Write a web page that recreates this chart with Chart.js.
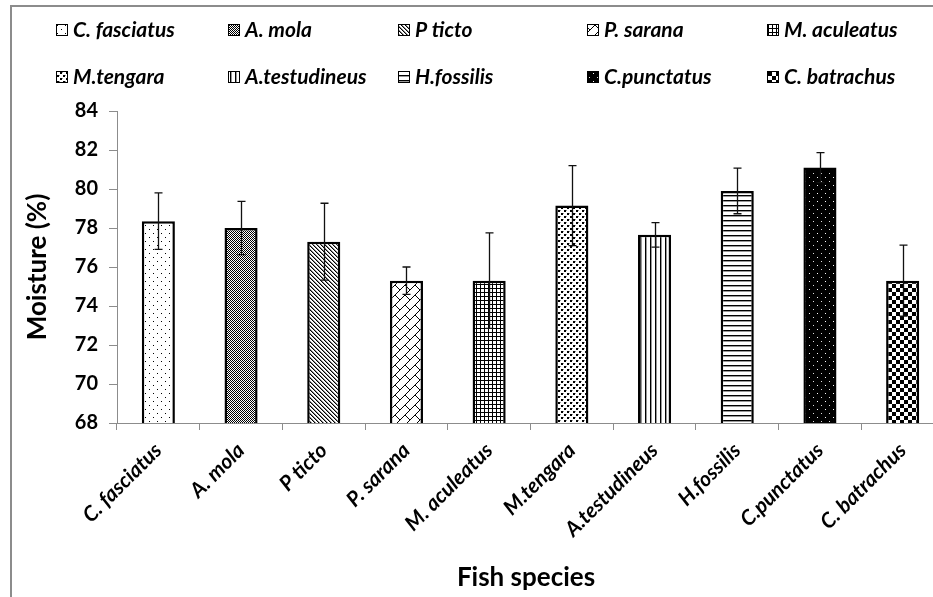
<!DOCTYPE html>
<html>
<head>
<meta charset="utf-8">
<script src="https://cdn.jsdelivr.net/npm/chart.js@4.4.1/dist/chart.umd.min.js"></script>
<style>
  html, body { margin: 0; padding: 0; background: #fff; overflow: hidden; width: 933px; height: 597px; }
  #wrap { position: absolute; left: 0; top: 0; width: 960px; height: 597px; }
  #frame { position: absolute; left: 10px; top: 5px; width: 2000px; height: 2000px;
           border-left: 2px solid #8c8c8c; border-top: 2px solid #8c8c8c; pointer-events: none; }
</style>
</head>
<body>
<div id="wrap"><canvas id="c" width="960" height="597"></canvas></div>
<div id="frame"></div>
<script>
// ---- data ----
const categories = ['C. fasciatus', 'A. mola', 'P ticto', 'P. sarana', 'M. aculeatus',
                    'M.tengara', 'A.testudineus', 'H.fossilis', 'C.punctatus', 'C. batrachus'];
const moisture = [78.35, 78.0, 77.3, 75.3, 75.3, 79.15, 77.65, 79.9, 81.1, 75.3];
const moistureErr = [1.45, 1.37, 1.97, 0.7, 2.45, 2.05, 0.63, 1.17, 0.77, 1.82];
const yTickMin = 68, yTickMax = 84, yTickStep = 2;
const xTitle = 'Fish species';
const yTitle = 'Moisture (%)';

// ---- patterns ----
function makePattern(w, h, draw) {
  const c = document.createElement('canvas');
  c.width = w; c.height = h;
  const g = c.getContext('2d');
  draw(g, w, h);
  return g.createPattern(c, 'repeat');
}
function px(g, x, y, col) { g.fillStyle = col; g.fillRect(x, y, 1, 1); }
const patterns = [
  makePattern(8, 8, (g, w, h) => { g.fillStyle = '#fff'; g.fillRect(0, 0, w, h); px(g, 1, 1, '#000'); px(g, 5, 5, '#000'); }),
  makePattern(2, 2, (g, w, h) => { g.fillStyle = '#fff'; g.fillRect(0, 0, w, h); px(g, 0, 0, '#000'); px(g, 1, 1, '#000'); }),
  makePattern(4, 4, (g, w, h) => { g.fillStyle = '#fff'; g.fillRect(0, 0, w, h);
    for (let i = 0; i < 4; i++) { px(g, i, i, '#000'); px(g, (i + 1) % 4, i, '#8a8a8a'); } }),
  makePattern(10, 10, (g, w, h) => { g.fillStyle = '#fff'; g.fillRect(0, 0, w, h);
    g.strokeStyle = '#000'; g.lineWidth = 1;
    g.beginPath();
    g.moveTo(-2, 12); g.lineTo(12, -2);
    g.moveTo(-2, 2); g.lineTo(2, -2);
    g.moveTo(8, 12); g.lineTo(12, 8);
    g.moveTo(5, 5); g.lineTo(10, 10);
    g.stroke(); }),
  makePattern(4, 4, (g, w, h) => { g.fillStyle = '#fff'; g.fillRect(0, 0, w, h);
    g.fillStyle = '#000'; g.fillRect(0, 0, 4, 1); g.fillRect(0, 0, 1, 4); }),
  makePattern(6, 6, (g, w, h) => { g.fillStyle = '#fff'; g.fillRect(0, 0, w, h);
    g.fillStyle = '#000'; g.fillRect(0, 0, 2, 2); g.fillRect(3, 3, 2, 2);
    px(g, 2, 0, '#999'); px(g, 5, 3, '#999'); }),
  makePattern(5, 1, (g, w, h) => { g.fillStyle = '#fff'; g.fillRect(0, 0, w, h); px(g, 0, 0, '#000'); px(g, 1, 0, '#999'); }),
  makePattern(1, 5, (g, w, h) => { g.fillStyle = '#fff'; g.fillRect(0, 0, w, h); px(g, 0, 0, '#000'); px(g, 0, 1, '#999'); }),
  makePattern(8, 8, (g, w, h) => { g.fillStyle = '#000'; g.fillRect(0, 0, w, h); px(g, 1, 1, '#fff'); px(g, 5, 5, '#ddd'); }),
  makePattern(8, 8, (g, w, h) => { g.fillStyle = '#fff'; g.fillRect(0, 0, w, h);
    g.fillStyle = '#000'; g.fillRect(0, 0, 4, 4); g.fillRect(4, 4, 4, 4); })
];

const FONT = 'Lato, "Open Sans", sans-serif';
const axisGray = '#8c8c8c';

// ---- custom legend, error bars and x title ----
const extras = {
  id: 'extras',
  afterDatasetsDraw(chart) {
    const ctx = chart.ctx;
    const meta = chart.getDatasetMeta(0);
    const ys = chart.scales.y;
    ctx.save();
    ctx.strokeStyle = '#111';
    ctx.lineWidth = 1.3;
    meta.data.forEach((bar, i) => {
      const x = Math.round(bar.x) + 0.5;
      const top = ys.getPixelForValue(moisture[i] + moistureErr[i]);
      const bot = ys.getPixelForValue(moisture[i] - moistureErr[i]);
      ctx.beginPath();
      ctx.moveTo(x, top); ctx.lineTo(x, bot);
      ctx.moveTo(x - 4, top); ctx.lineTo(x + 4, top);
      ctx.moveTo(x - 4, bot); ctx.lineTo(x + 4, bot);
      ctx.stroke();
    });
    ctx.restore();
  },
  afterDraw(chart) {
    const ctx = chart.ctx;
    ctx.save();
    // legend
    const cols = [56, 228, 398, 587, 767];
    const rows = [29, 76];
    ctx.font = 'italic bold 21px ' + FONT;
    ctx.textBaseline = 'middle';
    ctx.textAlign = 'left';
    categories.forEach((name, i) => {
      const bx = cols[i % 5], by = rows[Math.floor(i / 5)];
      ctx.fillStyle = patterns[i];
      ctx.fillRect(bx, by - 5, 11, 11);
      ctx.strokeStyle = '#000';
      ctx.lineWidth = 1;
      ctx.strokeRect(bx + 0.5, by - 4.5, 11, 11);
      ctx.fillStyle = '#000';
      ctx.fillText(name, bx + 17, by + 1);
    });
    // x axis title
    ctx.font = 'bold 26px ' + FONT;
    ctx.textAlign = 'center';
    ctx.fillText(xTitle, 526, 578);
    ctx.restore();
  }
};

new Chart(document.getElementById('c'), {
  type: 'bar',
  data: {
    labels: categories,
    datasets: [{
      label: yTitle,
      data: moisture,
      backgroundColor: patterns,
      borderColor: '#000',
      borderWidth: 2.5,
      borderSkipped: false,
      categoryPercentage: 1,
      barPercentage: 0.4
    }]
  },
  options: {
    responsive: false,
    animation: false,
    devicePixelRatio: 1,
    layout: { padding: { left: 10, top: 111, right: 16, bottom: 0 } },
    plugins: { legend: { display: false }, tooltip: { enabled: false }, title: { display: false } },
    scales: {
      x: {
        offset: true,
        grid: { display: true, drawOnChartArea: false, offset: true, color: axisGray, tickLength: 7 },
        border: { color: axisGray, width: 1 },
        ticks: { color: '#000', font: { family: FONT, size: 21, weight: 'bold', style: 'italic' },
                 minRotation: 45, maxRotation: 45, autoSkip: false, padding: 8 },
        afterFit(scale) { scale.height = 597 - 423; }
      },
      y: {
        min: yTickMin, max: yTickMax,
        grid: { display: true, drawOnChartArea: false, color: axisGray, tickLength: 8 },
        border: { color: axisGray, width: 1 },
        ticks: { stepSize: yTickStep, color: '#000', padding: 11,
                 font: { family: FONT, size: 20, weight: 'bold' } },
        title: { display: true, text: yTitle, color: '#000', padding: { top: 12, bottom: 0 },
                 font: { family: FONT, size: 26, weight: 'bold' } },
        afterFit(scale) { scale.width = 107; }
      }
    }
  },
  plugins: [extras]
});
</script>
</body>
</html>
